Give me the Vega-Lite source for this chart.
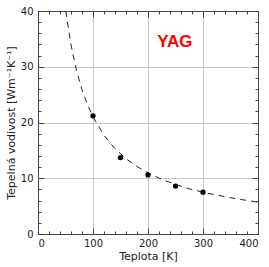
{
  "$schema": "https://vega.github.io/schema/vega-lite/v6.json",
  "width": 220,
  "height": 223,
  "autosize": {"type": "none"},
  "padding": {"left": 38, "top": 11, "right": 11, "bottom": 33},
  "background": "white",
  "config": {
    "view": {"stroke": "#444444", "strokeWidth": 1},
    "font": "DejaVu Sans",
    "axis": {"labelFont": "DejaVu Sans", "titleFont": "DejaVu Sans", "labelFontSize": 10, "titleFontSize": 11, "titleFontWeight": "normal", "labelColor": "#222222", "titleColor": "#222222", "domain": false, "tickColor": "#444444"}
  },
  "datasets": {
    "curve": [
      {"T": 50.5, "k": 40}, {"T": 60, "k": 33.9}, {"T": 70, "k": 29.3}, {"T": 80, "k": 25.9},
      {"T": 90, "k": 23.2}, {"T": 100, "k": 21.0}, {"T": 120, "k": 17.7}, {"T": 140, "k": 15.3},
      {"T": 160, "k": 13.5}, {"T": 180, "k": 12.1}, {"T": 200, "k": 11.0}, {"T": 225, "k": 9.8},
      {"T": 250, "k": 8.9}, {"T": 275, "k": 8.1}, {"T": 300, "k": 7.5}, {"T": 325, "k": 7.0},
      {"T": 350, "k": 6.5}, {"T": 375, "k": 6.1}, {"T": 400, "k": 5.7}
    ],
    "points": [
      {"T": 100, "k": 21.2}, {"T": 150, "k": 13.7}, {"T": 200, "k": 10.6},
      {"T": 250, "k": 8.6}, {"T": 300, "k": 7.5}
    ],
    "label": [{"T": 249, "k": 34.5, "text": "YAG"}]
  },
  "resolve": {"axis": {"x": "independent", "y": "independent"}},
  "layer": [
    {
      "data": {"name": "curve"},
      "mark": {"type": "line", "color": "#222222", "strokeWidth": 1, "strokeDash": [6, 5], "clip": true},
      "encoding": {
        "x": {"field": "T", "type": "quantitative", "scale": {"domain": [0, 400], "nice": false},
          "axis": {"orient": "bottom", "title": "Teplota [K]", "values": [0,20,40,60,80,100,120,140,160,180,200,220,240,260,280,300,320,340,360,380,400],
            "labelExpr": "datum.value % 100 === 0 ? datum.label : ''",
            "tickSize": {"condition": {"test": "datum.value % 100 === 0", "value": -6}, "value": -3},
            "labelPadding": 10, "titlePadding": 2,
            "grid": true, "gridColor": "#c8c8c8", "gridOpacity": {"condition": {"test": "datum.value % 100 === 0 && datum.value > 0 && datum.value < 400", "value": 1}, "value": 0}}},
        "y": {"field": "k", "type": "quantitative", "scale": {"domain": [0, 40], "nice": false},
          "axis": {"orient": "left", "title": "Tepelná vodivost [Wm⁻¹K⁻¹]", "values": [0,2,4,6,8,10,12,14,16,18,20,22,24,26,28,30,32,34,36,38,40],
            "labelExpr": "datum.value % 10 === 0 ? datum.label : ''",
            "tickSize": {"condition": {"test": "datum.value % 10 === 0", "value": -6}, "value": -3},
            "labelPadding": 11, "titlePadding": 4,
            "grid": true, "gridColor": "#c8c8c8", "gridOpacity": {"condition": {"test": "datum.value % 10 === 0 && datum.value > 0 && datum.value < 40", "value": 1}, "value": 0}}}
      }
    },
    {
      "data": {"name": "points"},
      "mark": {"type": "circle", "color": "black", "opacity": 1, "size": 28},
      "encoding": {
        "x": {"field": "T", "type": "quantitative", "scale": {"domain": [0, 400], "nice": false},
          "axis": {"orient": "top", "title": null, "labels": false, "grid": false, "values": [0,20,40,60,80,100,120,140,160,180,200,220,240,260,280,300,320,340,360,380,400],
            "tickSize": {"condition": {"test": "datum.value % 100 === 0", "value": -6}, "value": -3}}},
        "y": {"field": "k", "type": "quantitative", "scale": {"domain": [0, 40], "nice": false},
          "axis": {"orient": "right", "title": null, "labels": false, "grid": false, "values": [0,2,4,6,8,10,12,14,16,18,20,22,24,26,28,30,32,34,36,38,40],
            "tickSize": {"condition": {"test": "datum.value % 10 === 0", "value": -6}, "value": -3}}}
      }
    },
    {
      "data": {"name": "label"},
      "mark": {"type": "text", "color": "#ff0000", "fontSize": 17, "fontWeight": "bold", "font": "Liberation Sans", "align": "center", "baseline": "middle"},
      "encoding": {
        "x": {"field": "T", "type": "quantitative", "axis": null},
        "y": {"field": "k", "type": "quantitative", "axis": null},
        "text": {"field": "text"}
      }
    }
  ]
}
